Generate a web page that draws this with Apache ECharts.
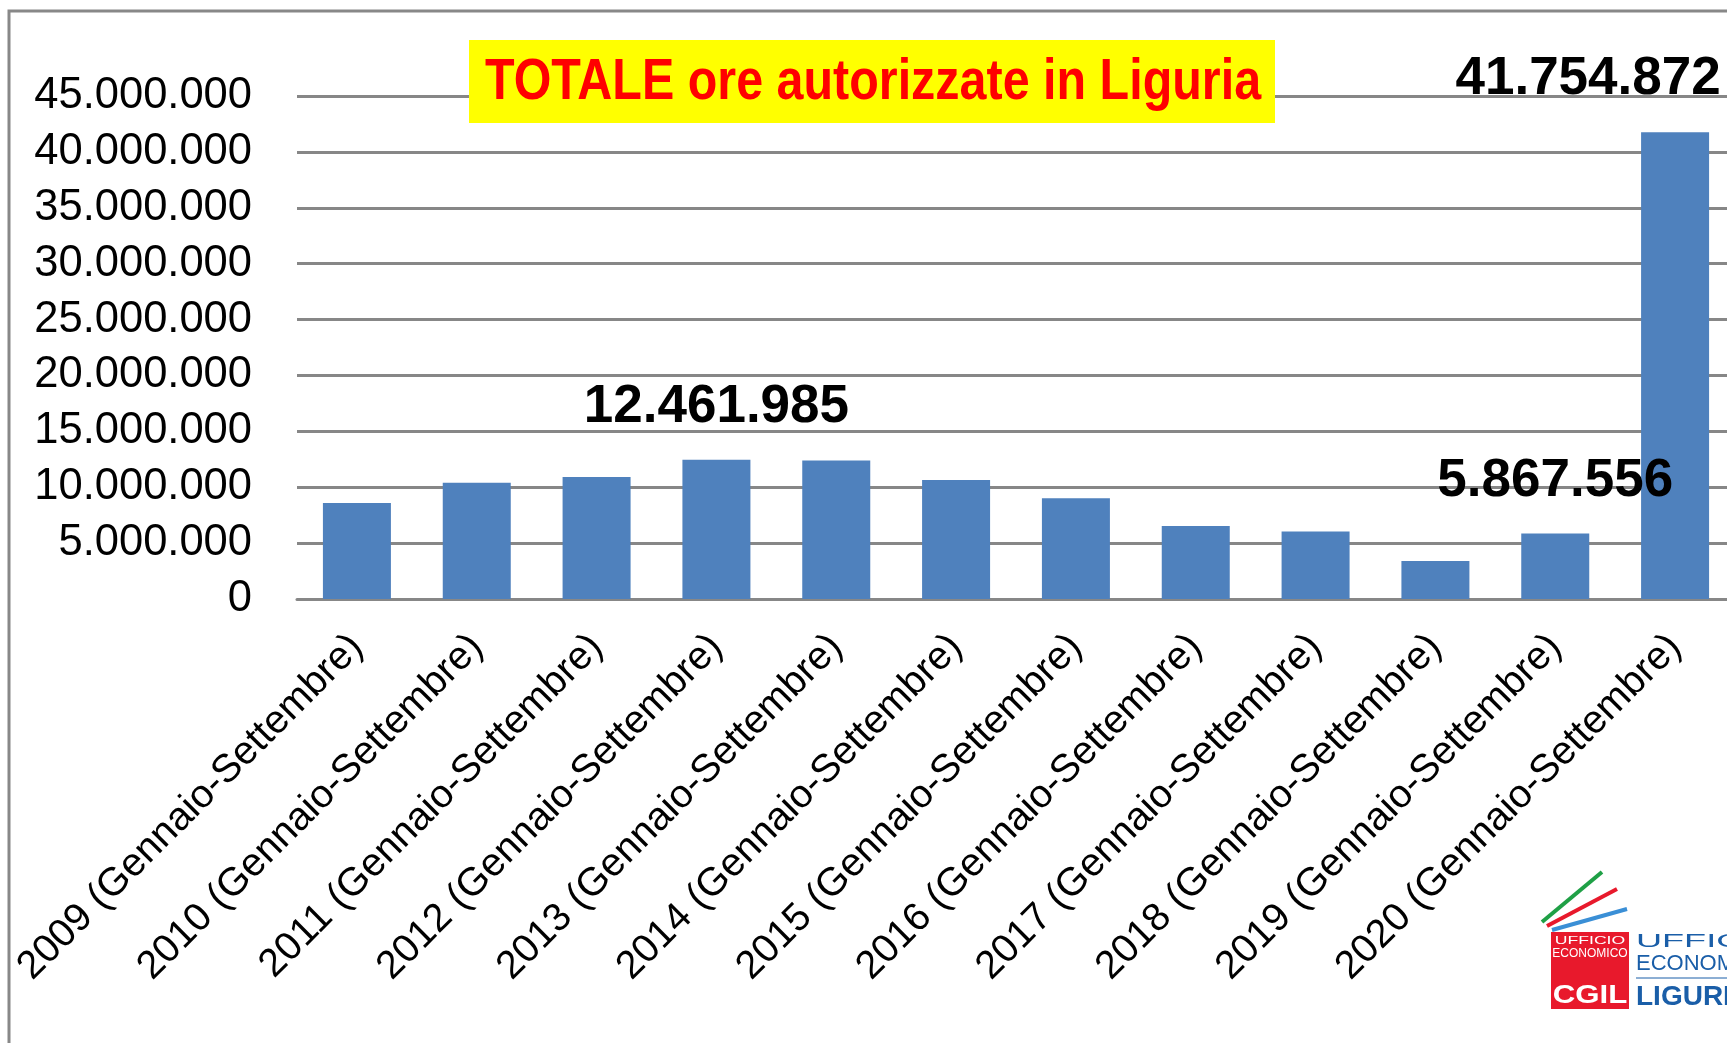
<!DOCTYPE html>
<html>
<head>
<meta charset="utf-8">
<title>TOTALE ore autorizzate in Liguria</title>
<script src="https://cdn.jsdelivr.net/npm/echarts@6/dist/echarts.min.js"></script>
<style>
  html, body { margin: 0; padding: 0; background: #ffffff; overflow: hidden; }
  /* the plot runs a little past the right edge, as in the original slide */
  #chart { width: 1735px; height: 1043px; }
</style>
</head>
<body>
<div id="chart"></div>
<script>
// categorie e ore autorizzate
const categories = [
  '2009 (Gennaio-Settembre)', '2010 (Gennaio-Settembre)', '2011 (Gennaio-Settembre)',
  '2012 (Gennaio-Settembre)', '2013 (Gennaio-Settembre)', '2014 (Gennaio-Settembre)',
  '2015 (Gennaio-Settembre)', '2016 (Gennaio-Settembre)', '2017 (Gennaio-Settembre)',
  '2018 (Gennaio-Settembre)', '2019 (Gennaio-Settembre)', '2020 (Gennaio-Settembre)'
];
const hours = [8590000, 10400000, 10920000, 12461985, 12400000, 10640000, 9020000, 6530000, 6030000, 3400000, 5867556, 41754872];
const labelled = [3, 10, 11];
const yTicks = { min: 0, max: 45000000, step: 5000000 };
const titleText = 'TOTALE ore autorizzate in Liguria';

function fmt(v) {
  return String(Math.round(v)).replace(/\B(?=(\d{3})+(?!\d))/g, '.');
}

let chartDom = document.getElementById('chart');
let myChart = echarts.init(chartDom);
let option;

option = {
  animation: false,
  backgroundColor: '#ffffff',
  textStyle: { fontFamily: 'Liberation Sans' },
  grid: { left: 297, top: 96, right: 0, height: 503, containLabel: false },
  xAxis: {
    type: 'category',
    data: categories,
    axisLine: { show: true, lineStyle: { color: '#878787', width: 3 } },
    axisTick: { show: false },
    axisLabel: {
      rotate: 45,
      interval: 0,
      margin: 42,
      fontSize: 39.5,
      color: '#000000',
      fontFamily: 'Liberation Sans'
    }
  },
  yAxis: {
    type: 'value',
    min: yTicks.min,
    max: yTicks.max,
    interval: yTicks.step,
    axisLine: { show: false },
    axisTick: { show: false },
    splitLine: { lineStyle: { color: '#878787', width: 3 } },
    axisLabel: {
      margin: 45,
      fontSize: 43.5,
      color: '#000000',
      fontFamily: 'Liberation Sans',
      formatter: (v) => fmt(v)
    }
  },
  series: [
    {
      type: 'bar',
      barWidth: 68,
      itemStyle: { color: '#4F81BD' },
      data: hours.map((v, i) => ({
        value: v,
        label: {
          show: labelled.includes(i),
          position: 'top',
          distance: 26,
          offset: i === hours.length - 1 ? [-87, 0] : [0, 0],
          formatter: (p) => fmt(p.value),
          fontSize: 53,
          fontWeight: 'bold',
          color: '#000000',
          fontFamily: 'Liberation Sans'
        }
      }))
    }
  ],
  graphic: [
    // cornice
    {
      type: 'rect', z: 50, silent: true,
      shape: { x: 9, y: 11, width: 1800, height: 1100 },
      style: { fill: 'none', stroke: '#888888', lineWidth: 3 }
    },
    // titolo
    {
      type: 'rect', z: 100,
      shape: { x: 469, y: 40, width: 806, height: 83 },
      style: { fill: '#FFFF00' }
    },
    {
      type: 'text', z: 101,
      x: 873, y: 83, scaleX: 0.85,
      style: {
        text: titleText, fill: '#FF0000', fontSize: 57, fontWeight: 'bold',
        fontFamily: 'Liberation Sans', align: 'center', verticalAlign: 'middle'
      }
    },
    // logo
    { type: 'line', z: 100, shape: { x1: 1542, y1: 922, x2: 1602, y2: 872 }, style: { stroke: '#1fa046', lineWidth: 4 } },
    { type: 'line', z: 100, shape: { x1: 1547, y1: 926, x2: 1617, y2: 889 }, style: { stroke: '#e8192c', lineWidth: 4 } },
    { type: 'line', z: 100, shape: { x1: 1552, y1: 930, x2: 1627, y2: 909 }, style: { stroke: '#3a8fd6', lineWidth: 4 } },
    { type: 'rect', z: 100, shape: { x: 1551, y: 932, width: 78, height: 77 }, style: { fill: '#e8192c' } },
    {
      type: 'text', z: 101, x: 1590, y: 941, scaleX: 1.6,
      style: { text: 'UFFICIO', fill: '#ffffff', fontSize: 11, fontFamily: 'Liberation Sans', align: 'center', verticalAlign: 'middle' }
    },
    {
      type: 'text', z: 101, x: 1590, y: 954,
      style: { text: 'ECONOMICO', fill: '#ffffff', fontSize: 12, fontFamily: 'Liberation Sans', align: 'center', verticalAlign: 'middle' }
    },
    {
      type: 'text', z: 101, x: 1590, y: 996, scaleX: 1.2,
      style: { text: 'CGIL', fill: '#ffffff', fontSize: 26, fontWeight: 'bold', fontFamily: 'Liberation Sans', align: 'center', verticalAlign: 'middle' }
    },
    {
      type: 'text', z: 101, x: 1636, y: 942, scaleX: 1.9,
      style: { text: 'UFFICIO', fill: '#1a5ea8', fontSize: 19, fontFamily: 'Liberation Sans', align: 'left', verticalAlign: 'middle' }
    },
    {
      type: 'text', z: 101, x: 1636, y: 964,
      style: { text: 'ECONOMICO', fill: '#1a5ea8', fontSize: 22, fontFamily: 'Liberation Sans', align: 'left', verticalAlign: 'middle' }
    },
    { type: 'line', z: 100, shape: { x1: 1636, y1: 978, x2: 1735, y2: 978 }, style: { stroke: '#1a5ea8', lineWidth: 1 } },
    {
      type: 'text', z: 101, x: 1636, y: 997,
      style: { text: 'LIGURIA', fill: '#1a5ea8', fontSize: 28, fontWeight: 'bold', fontFamily: 'Liberation Sans', align: 'left', verticalAlign: 'middle' }
    }
  ]
};

option && myChart.setOption(option);
</script>
</body>
</html>
